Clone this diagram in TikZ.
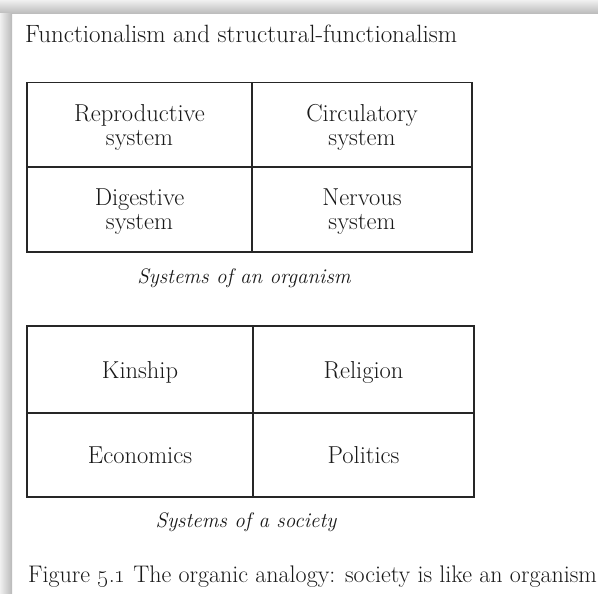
\documentclass[tikz,border=0pt]{standalone}
\usetikzlibrary{positioning}

\begin{document}
\begin{tikzpicture}[x=1pt, y=-1pt,
    cell/.style={draw=black!85, line width=1.2pt, minimum height=85pt,
        inner sep=0pt, align=center, text=black!90, text depth=0pt,
        font=\fontsize{24.5}{24}\selectfont},
    caption/.style={anchor=base, text=black!90, font=\fontsize{21}{24}\selectfont\itshape},
    heading/.style={anchor=base west, inner sep=0pt, text=black!90}]
    \useasboundingbox (0,0) rectangle (598,594);

    % Page and its shadow
    \fill[white] (0,0) rectangle (598,594);
    \shade[top color=gray!12, bottom color=gray!55] (0,0) rectangle (598,14);
    \shade[left color=gray!12, right color=gray!55] (0,14) rectangle (12,594);

    % Heading
    \node[heading, font=\fontsize{25}{24}\selectfont] (head) at (25,43) {Functionalism and structural-functionalism};

    % Systems of an organism
    \node[cell, minimum width=225pt] (repro) at (139.5,125) {Reproductive\\system};
    \node[cell, minimum width=220pt] (circ) at (362,125) {Circulatory\\system};
    \node[cell, minimum width=225pt] (digest) at (139.5,209.5) {Digestive\\system};
    \node[cell, minimum width=220pt] (nerv) at (362,209.5) {Nervous\\system};
    \node[caption] (organism) at (244,283) {Systems of an organism};

    % Systems of a society
    \node[cell, minimum width=226pt, minimum height=87pt] (kin) at (140,369.5) {Kinship};
    \node[cell, minimum width=221pt, minimum height=87pt] (relig) at (363.5,369.5) {Religion};
    \node[cell, minimum width=226pt, minimum height=84pt] (econ) at (140,455) {Economics};
    \node[cell, minimum width=221pt, minimum height=84pt] (polit) at (363.5,455) {Politics};
    \node[caption] (society) at (246,527) {Systems of a society};

    % Figure caption
    \node[heading, font=\fontsize{24}{24}\selectfont] (fig) at (28,582) {Figure \oldstylenums{5}.\oldstylenums{1} The organic analogy: society is like an organism};
\end{tikzpicture}
\end{document}
